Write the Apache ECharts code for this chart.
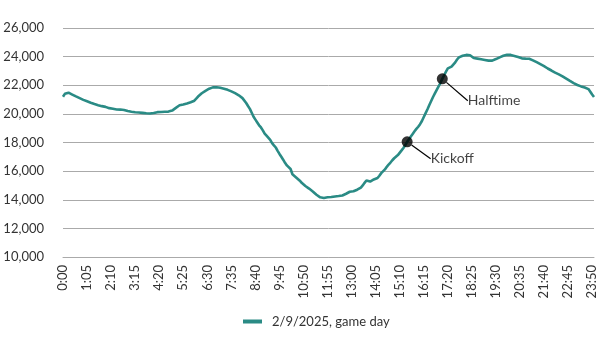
<!DOCTYPE html>
<html>
<head>
<meta charset="utf-8">
<script src="https://cdn.jsdelivr.net/npm/echarts@6/dist/echarts.min.js"></script>
<style>html,body{margin:0;padding:0;background:#fff}#c{width:600px;height:350px}</style>
</head>
<body>
<div id="c"></div>
<script>
// 5-minute time slots 0:00 .. 23:55
var times = [];
for (var m = 0; m < 24 * 60; m += 5) {
  times.push(Math.floor(m / 60) + ':' + String(m % 60).padStart(2, '0'));
}
var seriesName = '2/9/2025, game day';
var gameDay = [
  21200,21400,21490,21480,21420,21350,21290,21220,21160,21100,
  21040,20980,20930,20880,20820,20780,20740,20690,20650,20610,
  20560,20540,20520,20490,20440,20400,20390,20360,20330,20310,
  20290,20300,20320,20270,20230,20200,20160,20150,20140,20110,
  20120,20100,20080,20070,20060,20040,20030,20030,20020,20060,
  20100,20120,20110,20130,20140,20150,20170,20160,20200,20230,
  20320,20420,20540,20600,20610,20650,20680,20720,20770,20810,
  20860,20920,21060,21210,21330,21440,21530,21610,21700,21760,
  21810,21850,21870,21860,21840,21820,21790,21760,21740,21680,
  21610,21570,21500,21450,21390,21300,21200,21100,20980,20760,
  20550,20350,20080,19800,19600,19400,19200,19050,18850,18620,
  18480,18370,18180,17960,17800,17650,17420,17200,17000,16800,
  16580,16400,16300,16150,15780,15680,15560,15450,15330,15180,
  15050,14960,14870,14780,14700,14580,14470,14350,14260,14170,
  14100,14120,14160,14170,14200,14190,14220,14230,14220,14260,
  14280,14300,14350,14420,14500,14560,14620,14590,14680,14700,
  14690,14850,15000,15180,15350,15300,15270,15330,15420,15480,
  15520,15680,15860,15960,16120,16300,16460,16600,16760,16900,
  17000,17120,17250,17450,17620,17820,18050,18230,18420,18600,
  18780,18950,19100,19280,19500,19780,20050,20320,20620,20900,
  21180,21430,21680,21920,22150,22450,22700,22950,23180,23250,
  23300,23420,23600,23800,23950,24040,24060,24070,24120,24150,
  24100,23980,23900,23880,23860,23850,23820,23800,23770,23740,
  23720,23710,23720,23760,23830,23900,23950,24000,24060,24100,
  24130,24140,24120,24080,24050,24020,23970,23920,23880,23870,
  23860,23880,23850,23790,23740,23680,23610,23540,23470,23400,
  23330,23250,23170,23110,23030,22950,22880,22820,22760,22690,
  22620,22540,22460,22380,22300,22220,22150,22080,22020,21970,
  21920,21880,21840,21800,21730,21550,21350,21180
];
var eventNames = ['Kickoff', 'Halftime'];
var eventTimes = ['15:30', '17:05'];
var yTicks = [10000, 12000, 14000, 16000, 18000, 20000, 22000, 24000, 26000];

var FONT = 'Lato';
var eventData = eventTimes.map(function (t, k) {
  return { name: eventNames[k], value: [t, gameDay[times.indexOf(t)]] };
});
var labelShift = [{ dx: 13, dy: 17 }, { dx: 15, dy: 22 }];

var chart = echarts.init(document.getElementById('c'), null, { renderer: 'canvas' });
chart.setOption({
  animation: false,
  textStyle: { fontFamily: FONT },
  grid: { left: 63, right: 6, top: 28, bottom: 93 },
  legend: {
    data: [seriesName],
    bottom: 17,
    left: 238,
    icon: 'rect',
    itemWidth: 19,
    itemHeight: 4,
    textStyle: { fontFamily: FONT, fontSize: 13, color: '#333', padding: [0, 0, 0, 5] }
  },
  xAxis: {
    type: 'category',
    data: times,
    boundaryGap: false,
    axisLine: { lineStyle: { color: '#aaaaaa', width: 1 } },
    axisTick: { show: false },
    axisLabel: {
      interval: 12,
      rotate: 90,
      margin: 8,
      fontFamily: FONT,
      fontSize: 13,
      color: '#333'
    }
  },
  yAxis: {
    type: 'value',
    min: yTicks[0],
    max: yTicks[yTicks.length - 1],
    interval: 2000,
    axisLine: { show: false },
    axisTick: { show: false },
    splitLine: { lineStyle: { color: '#aaaaaa', width: 1 } },
    axisLabel: {
      margin: 19,
      fontFamily: FONT,
      fontSize: 13,
      color: '#333',
      formatter: function (v) { return v.toLocaleString('en-US'); }
    }
  },
  series: [
    {
      name: seriesName,
      type: 'line',
      data: gameDay,
      showSymbol: false,
      symbol: 'none',
      lineStyle: { color: '#2a8b85', width: 2.6 },
      itemStyle: { color: '#2a8b85' },
      z: 2
    },
    {
      name: 'events',
      type: 'scatter',
      data: eventData,
      symbolSize: 11,
      itemStyle: { color: '#000' },
      z: 5,
      label: {
        show: true,
        position: 'right',
        distance: 5,
        formatter: '{b}',
        fontFamily: FONT,
        fontSize: 14,
        color: '#111'
      },
      labelLayout: function (p) { return labelShift[p.dataIndex]; },
      labelLine: { show: true, lineStyle: { color: '#000', width: 1.2 } }
    }
  ]
});
</script>
</body>
</html>
